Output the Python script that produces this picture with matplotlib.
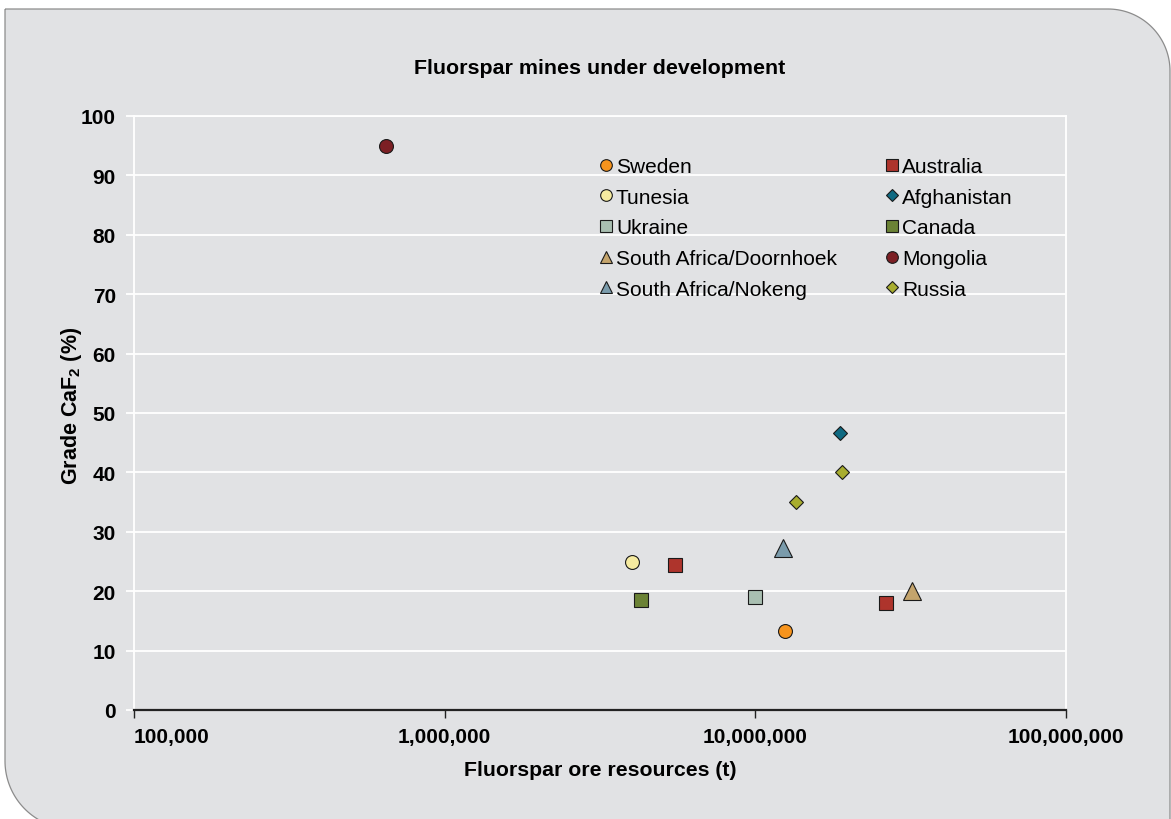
import matplotlib
matplotlib.use("Agg")
import matplotlib.pyplot as plt
import numpy as np
from matplotlib.path import Path
from matplotlib.patches import PathPatch
from matplotlib.ticker import FixedLocator, NullLocator

plt.rcParams['font.family'] = ['Liberation Sans', 'DejaVu Sans']
plt.rcParams['mathtext.fontset'] = 'custom'
plt.rcParams['mathtext.rm'] = 'Liberation Sans:bold'
plt.rcParams['mathtext.default'] = 'rm'

# Mine data: ore resources (t) and CaF2 grade (%)
sweden_t = [12.5e6]
sweden_g = [13.3]
tunesia_t = [4.0e6]
tunesia_g = [25.0]
ukraine_t = [10.0e6]
ukraine_g = [19.0]
doornhoek_t = [32.0e6]
doornhoek_g = [20.0]
nokeng_t = [12.3e6]
nokeng_g = [27.2]
australia_t = [5.5e6, 26.3e6]
australia_g = [24.4, 18.0]
afghanistan_t = [18.7e6]
afghanistan_g = [46.7]
canada_t = [4.3e6]
canada_g = [18.5]
mongolia_t = [0.647e6]
mongolia_g = [95.0]
russia_t = [13.5e6, 19.0e6]
russia_g = [35.0, 40.0]

# name, x, y, marker, face colour, plot marker size, legend marker size
series = [
    ("Sweden", sweden_t, sweden_g, "o", "#F7941D", 10, 8.4),
    ("Tunesia", tunesia_t, tunesia_g, "o", "#F6EBA0", 10, 8.4),
    ("Ukraine", ukraine_t, ukraine_g, "s", "#A9BFB1", 10, 8.6),
    ("South Africa/Doornhoek", doornhoek_t, doornhoek_g, "^", "#C4A46C", 13, 9),
    ("South Africa/Nokeng", nokeng_t, nokeng_g, "^", "#7A9BAB", 13, 9),
    ("Australia", australia_t, australia_g, "s", "#AE342C", 10, 8.6),
    ("Afghanistan", afghanistan_t, afghanistan_g, "D", "#0F6A82", 7, 6.2),
    ("Canada", canada_t, canada_g, "s", "#6B8235", 10, 8.6),
    ("Mongolia", mongolia_t, mongolia_g, "o", "#7C1F24", 10, 8.4),
    ("Russia", russia_t, russia_g, "D", "#A8AD2F", 7, 6.2),
]

x_ticks = [1e5, 1e6, 1e7, 1e8]
x_tick_labels = ["100,000", "1,000,000", "10,000,000", "100,000,000"]
y_ticks = list(range(0, 101, 10))

W, H = 1171, 820
BG = "#E1E2E4"
fig = plt.figure(figsize=(W / 100, H / 100), dpi=100, facecolor="white")

# Rounded panel behind the chart (top-right and bottom-left corners rounded)
def arc(cx, cy, r, a0, a1, n=40):
    a = np.linspace(np.radians(a0), np.radians(a1), n)
    return list(zip(cx + r * np.cos(a), cy + r * np.sin(a)))

left, right, top, bottom = 5, 1170, 10, 830
r1, r2 = 62, 68
pts = [(left, top), (right - r1, top)]
pts += arc(right - r1, top + r1, r1, -90, 0)
pts += [(right, bottom), (left + r2, bottom)]
pts += arc(left + r2, bottom - r2, r2, 90, 180)
pts += [(left, top)]
pts = [(x / W, 1 - y / H) for x, y in pts]
panel = PathPatch(Path(pts), transform=fig.transFigure, facecolor=BG,
                  edgecolor="#8C8C8C", linewidth=0.9, zorder=-5)
fig.patches.append(panel)

ax = fig.add_axes([134 / W, 1 - 711 / H, (1066 - 134) / W, (711 - 117) / H])
ax.set_facecolor("none")
ax.set_xscale("log")
ax.set_xlim(1e5, 1e8)
ax.set_ylim(0, 100)

lines = []
for name, xs, ys, m, c, ms, lms in series:
    ln, = ax.plot(xs, ys, linestyle="none", marker=m, markersize=ms,
                  markerfacecolor=c, markeredgecolor="#1A1A1A",
                  markeredgewidth=0.8, label=name, zorder=3, clip_on=False)
    lines.append(ln)

ax.xaxis.set_major_locator(FixedLocator(x_ticks))
ax.xaxis.set_minor_locator(NullLocator())
ax.set_xticklabels(x_tick_labels)
ax.set_yticks(y_ticks)

ax.grid(axis="y", color="white", linewidth=1.3)
ax.set_axisbelow(True)

for s in ["top", "right", "left"]:
    ax.spines[s].set_color("white")
    ax.spines[s].set_linewidth(1.3)
ax.spines["bottom"].set_color("#222222")
ax.spines["bottom"].set_linewidth(1.6)
ax.spines["bottom"].set_zorder(4)

ax.tick_params(axis="x", direction="out", length=6, width=1, color="#222222",
               labelsize=15, pad=6)
ax.tick_params(axis="y", direction="out", length=6, width=1.3, color="white",
               labelsize=15, pad=7)
for lab in ax.get_xticklabels() + ax.get_yticklabels():
    lab.set_fontweight("bold")
ax.get_xticklabels()[0].set_horizontalalignment("left")

fig.text(600 / W, 1 - 68 / H, "Fluorspar mines under development",
         ha="center", va="center", fontsize=15.4, fontweight="bold")
fig.text(600 / W, 1 - 771 / H, "Fluorspar ore resources (t)",
         ha="center", va="center", fontsize=15.3, fontweight="bold")
fig.text(71 / W, 1 - 406 / H, r"Grade CaF$_{2}$ (%)", rotation=90,
         ha="center", va="center", fontsize=15.5, fontweight="bold")

# Two-column legend, drawn as two stacked columns
leg_kw = dict(frameon=False, loc="upper left", bbox_transform=fig.transFigure,
              fontsize=15, handlelength=0.72, handletextpad=0.14,
              labelspacing=0.56, borderpad=0, borderaxespad=0)
legs = []
for col, x0 in ((0, 598), (1, 884)):
    hs = lines[col * 5:(col + 1) * 5]
    lg = ax.legend(hs, [h.get_label() for h in hs],
                   bbox_to_anchor=(x0 / W, 1 - 158 / H), **leg_kw)
    for h, spec in zip(lg.legend_handles, series[col * 5:(col + 1) * 5]):
        h.set_markersize(spec[6])
    legs.append(lg)
ax.add_artist(legs[0])

fig.savefig("out.png", dpi=100, facecolor="white")
